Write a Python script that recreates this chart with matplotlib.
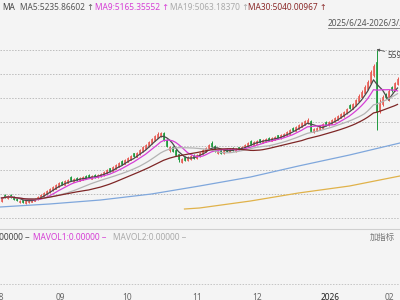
import matplotlib
matplotlib.use('Agg')
import matplotlib.pyplot as plt
import pandas as pd
from matplotlib.transforms import blended_transform_factory

plt.rcParams['font.family'] = ['Noto Sans', 'Noto Sans CJK SC', 'DejaVu Sans']

# ---------------- data ----------------
opens = [4080, 4140, 4110, 4140, 4125, 4105, 4070, 4090, 4065, 4070,
         4075, 4085, 4100, 4115, 4135, 4150, 4170, 4190, 4205, 4225,
         4275, 4245, 4265, 4320, 4275, 4315, 4285, 4295, 4330, 4345,
         4305, 4345, 4320, 4330, 4340, 4360, 4410, 4385, 4405, 4425,
         4480, 4455, 4475, 4495, 4560, 4525, 4550, 4580, 4605, 4630,
         4660, 4690, 4715, 4730, 4760, 4690, 4590, 4620, 4590, 4550,
         4470, 4520, 4490, 4500, 4540, 4510, 4530, 4555, 4575, 4600,
         4665, 4630, 4560, 4590, 4560, 4605, 4575, 4615, 4580, 4620,
         4595, 4610, 4630, 4680, 4645, 4655, 4700, 4665, 4675, 4715,
         4685, 4695, 4740, 4710, 4725, 4740, 4755, 4815, 4785, 4805,
         4825, 4845, 4860, 4880, 4770, 4785, 4800, 4815, 4870, 4840,
         4855, 4875, 4895, 4915, 4930, 4960, 5040, 5005, 5040, 5080,
         5120, 5160, 5200, 5260, 5340, 5470, 4980, 5050, 5150, 5090,
         5220, 5195, 5250]
highs = [4125, 4150, 4140, 4150, 4130, 4110, 4095, 4095, 4090, 4095,
         4105, 4115, 4135, 4155, 4175, 4195, 4215, 4235, 4255, 4275,
         4285, 4295, 4300, 4330, 4315, 4320, 4320, 4330, 4340, 4350,
         4340, 4350, 4355, 4365, 4380, 4400, 4415, 4430, 4450, 4470,
         4490, 4500, 4520, 4545, 4565, 4575, 4600, 4635, 4655, 4685,
         4715, 4745, 4770, 4775, 4775, 4700, 4630, 4630, 4600, 4555,
         4515, 4530, 4530, 4545, 4550, 4555, 4575, 4600, 4625, 4655,
         4680, 4640, 4595, 4595, 4600, 4615, 4610, 4620, 4615, 4625,
         4630, 4650, 4670, 4690, 4685, 4690, 4705, 4700, 4710, 4720,
         4720, 4730, 4745, 4750, 4765, 4785, 4805, 4820, 4830, 4850,
         4875, 4895, 4910, 4890, 4810, 4820, 4840, 4860, 4880, 4880,
         4900, 4925, 4945, 4965, 4985, 5015, 5050, 5065, 5105, 5150,
         5190, 5240, 5290, 5390, 5450, 5595, 5100, 5140, 5165, 5200,
         5235, 5275, 5320]
lows = [4070, 4110, 4100, 4110, 4090, 4080, 4060, 4065, 4055, 4065,
        4070, 4080, 4095, 4110, 4130, 4145, 4165, 4185, 4200, 4220,
        4240, 4240, 4260, 4280, 4270, 4285, 4280, 4290, 4300, 4310,
        4300, 4315, 4315, 4325, 4335, 4355, 4375, 4380, 4400, 4420,
        4445, 4450, 4470, 4490, 4520, 4520, 4545, 4575, 4600, 4625,
        4655, 4685, 4710, 4725, 4680, 4620, 4570, 4570, 4530, 4470,
        4460, 4485, 4480, 4495, 4505, 4505, 4525, 4550, 4570, 4595,
        4620, 4575, 4550, 4550, 4555, 4575, 4570, 4585, 4575, 4590,
        4590, 4605, 4625, 4645, 4640, 4650, 4665, 4660, 4670, 4680,
        4680, 4690, 4705, 4705, 4720, 4735, 4750, 4780, 4780, 4800,
        4820, 4840, 4855, 4770, 4765, 4780, 4795, 4810, 4835, 4835,
        4850, 4870, 4890, 4910, 4925, 4955, 5000, 5000, 5035, 5075,
        5110, 5150, 5190, 5250, 5320, 4790, 4960, 5030, 5100, 5080,
        5170, 5185, 5240]
closes = [4110, 4120, 4130, 4120, 4100, 4090, 4085, 4075, 4080, 4085,
          4095, 4105, 4125, 4145, 4165, 4185, 4200, 4225, 4240, 4260,
          4250, 4280, 4290, 4290, 4300, 4295, 4310, 4320, 4310, 4320,
          4330, 4325, 4345, 4355, 4370, 4390, 4385, 4420, 4440, 4460,
          4455, 4490, 4510, 4530, 4530, 4560, 4590, 4620, 4640, 4670,
          4700, 4730, 4750, 4765, 4690, 4630, 4620, 4580, 4540, 4500,
          4500, 4495, 4520, 4530, 4515, 4545, 4565, 4590, 4610, 4640,
          4630, 4590, 4585, 4560, 4590, 4585, 4600, 4595, 4605, 4600,
          4620, 4640, 4660, 4655, 4675, 4680, 4675, 4690, 4700, 4690,
          4710, 4720, 4715, 4740, 4755, 4770, 4790, 4790, 4820, 4840,
          4860, 4880, 4890, 4780, 4800, 4810, 4830, 4850, 4845, 4870,
          4890, 4910, 4930, 4950, 4970, 5000, 5010, 5050, 5090, 5130,
          5170, 5220, 5270, 5370, 5430, 4970, 5060, 5120, 5120, 5180,
          5190, 5260, 5300]

long_ma_a_idx = [-0.5, 16, 33, 50, 66, 83, 99, 116, 132.8]
long_ma_a_val = [4020, 4050, 4090, 4150, 4230, 4320, 4430, 4540, 4660]
long_ma_b_idx = [61, 66, 83, 99, 116, 132.8]
long_ma_b_val = [4000, 4010, 4080, 4160, 4230, 4330]

ma_windows = [5, 9, 19, 30]
ma_values_text = ['5235.86602', '5165.35552', '5063.18370', '5040.00967']

tick_labels = ['08', '09', '10', '11', '12', '2026', '02']
tick_pos = [-0.83, 19.67, 41.7, 65.1, 85.1, 109.6, 129.2]
grid_levels = [5590, 5350, 5110, 4870, 4630, 4390, 4150, 3910]

peak_label = '5595.00'
date_range = '2025/6/24-2026/3/2'

# ---------------- drawing ----------------
BG = '#f4f4f4'
W, H = 400, 300
fig = plt.figure(figsize=(4, 3), dpi=100, facecolor=BG)
ax = fig.add_axes([0, 0, 1, 1])
ax.set_facecolor(BG)
ax.set_xlim(-0.5, 132.83)
ax.set_ylim(3090, 6090)
ax.axis('off')

def px(x, y):
    return x / W, 1 - y / H

for g in grid_levels:
    ax.axhline(g, color='#bdbdbd', lw=0.7, ls=(0, (1.5, 1.5)), zorder=1)

n = len(closes)
RED_E, RED_F, GREEN = '#e5534b', '#f3a6a2', '#1f9a3e'
for i in range(n):
    o, h, l, c = opens[i], highs[i], lows[i], closes[i]
    up = c >= o
    col = RED_E if up else GREEN
    ax.vlines(i, l, h, color=col, lw=0.7, zorder=3)
    bottom = min(o, c)
    height = max(abs(c - o), 6)
    ax.bar(i, height, bottom=bottom, width=0.62,
           facecolor=RED_F if up else GREEN, edgecolor=col, lw=0.5, zorder=4)

s = pd.Series(closes, dtype=float)
ma_colors = ['#4a4a4a', '#d63fd6', '#b3b3b3', '#7e2626']
for w, col in zip(ma_windows, ma_colors):
    ax.plot(range(n), s.rolling(w, min_periods=1).mean(), color=col, lw=0.9, zorder=5)

ax.plot(long_ma_a_idx, long_ma_a_val, color='#7fa7dc', lw=0.9, zorder=5)
ax.plot(long_ma_b_idx, long_ma_b_val, color='#e0b24a', lw=0.9, zorder=5)

# peak annotation
pk = max(range(n), key=lambda k: highs[k])
ax.annotate(peak_label, xy=(pk, highs[pk]), xytext=(11, -6), textcoords='offset pixels',
            fontsize=6, color='#444444', va='center', ha='left',
            arrowprops=dict(arrowstyle='-|>', color='#555555', lw=0.6,
                            mutation_scale=4, shrinkA=0, shrinkB=0), zorder=6)

# header
fs = 6.0
hdr_font = ['Noto Sans', 'DejaVu Sans']
fig.text(*px(2, 7), 'MA', fontsize=fs, color='#444444', va='center', family=hdr_font)
starts = [20, 95, 170, 248]
hdr_colors = ['#555555', '#d63fd6', '#aaaaaa', '#8b2a2a']
for st, w, v, col in zip(starts, ma_windows, ma_values_text, hdr_colors):
    fig.text(*px(st, 7), f'MA{w}:{v} ↑', fontsize=fs, color=col, va='center', family=hdr_font)

fig.text(*px(328, 23), date_range, fontsize=fs, color='#555555', va='center')
fig.add_artist(plt.Line2D([328 / W, 1], [1 - 27.5 / H] * 2, color='#777777', lw=0.6))

# volume area
fig.add_artist(plt.Line2D([0, 1], [1 - 229 / H] * 2, color='#d0d0d0', lw=0.8))
fig.text(*px(30, 237), 'VOL:0.00000 −', fontsize=fs, color='#444444', va='center', ha='right')
fig.text(*px(33, 237), 'MAVOL1:0.00000 −', fontsize=fs, color='#d63fd6', va='center')
fig.text(*px(113, 237), 'MAVOL2:0.00000 −', fontsize=fs, color='#aaaaaa', va='center')
fig.text(*px(370, 237), '加指标', fontsize=fs, color='#777777', va='center',
         family=['Noto Sans CJK SC', 'DejaVu Sans'])

fig.add_artist(plt.Line2D([0, 1], [1 - 284 / H] * 2, color='#c4c4c4', lw=0.7, ls=(0, (1.5, 1.5))))

trans = blended_transform_factory(ax.transData, fig.transFigure)
for lab, pos in zip(tick_labels, tick_pos):
    bold = lab == '2026'
    ax.text(pos, 1 - 297 / H, lab, transform=trans, fontsize=fs,
            color='#222222' if bold else '#666666', ha='center', va='center',
            fontweight='bold' if bold else 'normal', clip_on=False)

fig.savefig('out.png', dpi=100, facecolor=BG)
